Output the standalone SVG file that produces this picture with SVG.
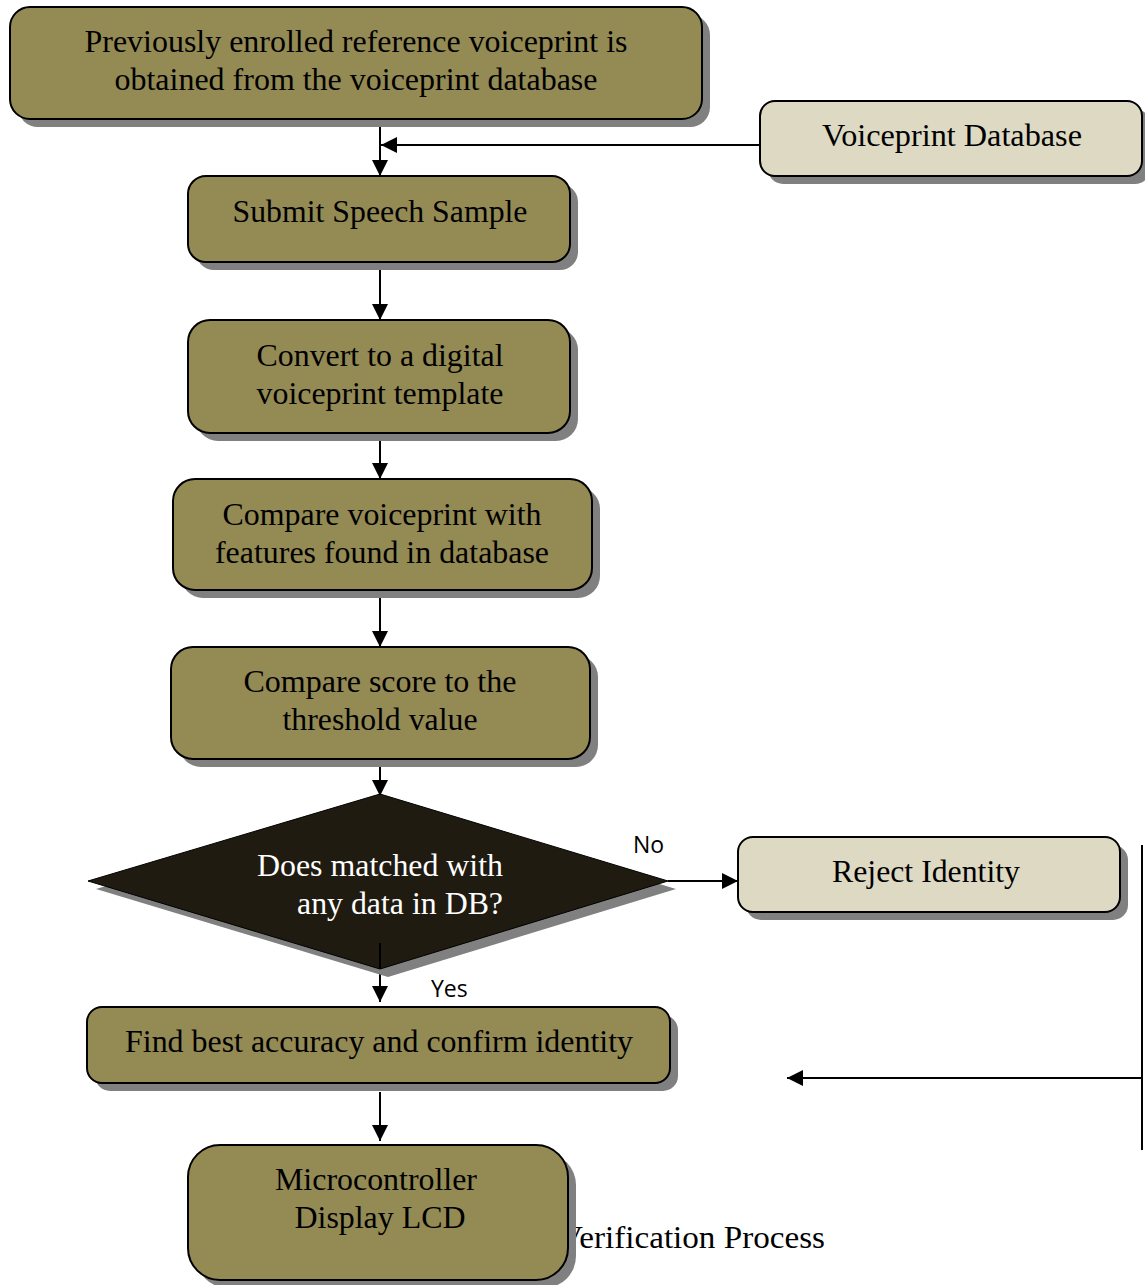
<svg xmlns="http://www.w3.org/2000/svg" width="1145" height="1285" viewBox="0 0 1145 1285">
<style>
.box{fill:#948a54;stroke:#000;stroke-width:2}
.lbox{fill:#ddd9c3;stroke:#000;stroke-width:2}
.sh{fill:#808080;stroke:none}
.t{font-family:"Liberation Serif","Times New Roman",serif;font-size:31px;fill:#000;text-anchor:middle}
.tw{font-family:"Liberation Serif","Times New Roman",serif;font-size:31px;fill:#fff;text-anchor:middle}
.s{font-family:"Open Sans","Liberation Sans",sans-serif;font-size:23px;fill:#000}
.c{fill:none;stroke:#000;stroke-width:2}
</style>
<defs>
<marker id="ah" markerUnits="userSpaceOnUse" markerWidth="16" markerHeight="16" refX="16" refY="8" orient="auto">
<path d="M0,0 L16,8 L0,16 z" fill="#000"/>
</marker>
</defs>
<rect width="1145" height="1285" fill="#fff"/>
<text class="t" x="825" y="1248" style="text-anchor:end" textLength="266" lengthAdjust="spacingAndGlyphs">Verification Process</text>
<g id="connectors">
<line class="c" x1="380" y1="119" x2="380" y2="176" marker-end="url(#ah)"/>
<line class="c" x1="760" y1="145" x2="381" y2="145" marker-end="url(#ah)"/>
<line class="c" x1="380" y1="262" x2="380" y2="320" marker-end="url(#ah)"/>
<line class="c" x1="380" y1="433" x2="380" y2="479" marker-end="url(#ah)"/>
<line class="c" x1="380" y1="590" x2="380" y2="647" marker-end="url(#ah)"/>
<line class="c" x1="380" y1="759" x2="380" y2="796" marker-end="url(#ah)"/>
<line class="c" x1="668" y1="881" x2="738" y2="881" marker-end="url(#ah)"/>
<line class="c" x1="380" y1="969" x2="380" y2="1002" marker-end="url(#ah)"/>
<line class="c" x1="1142" y1="845" x2="1142" y2="1150"/>
<line class="c" x1="1142" y1="1078" x2="787" y2="1078" marker-end="url(#ah)"/>
<line class="c" x1="380" y1="1092" x2="380" y2="1141" marker-end="url(#ah)"/>
</g>
<g id="n1">
<rect class="sh" x="18" y="15" width="692" height="112" rx="20"/>
<rect class="box" x="10" y="7" width="692" height="112" rx="20"/>
<text class="t" x="356" y="52" textLength="543" lengthAdjust="spacingAndGlyphs">Previously enrolled reference voiceprint is</text>
<text class="t" x="356" y="90" textLength="483" lengthAdjust="spacingAndGlyphs">obtained from the voiceprint database</text>
</g>
<g id="db">
<rect class="sh" x="768" y="109" width="382" height="75" rx="15"/>
<rect class="lbox" x="760" y="101" width="382" height="75" rx="15"/>
<text class="t" x="952" y="146" textLength="260" lengthAdjust="spacingAndGlyphs">Voiceprint Database</text>
</g>
<g id="n2">
<rect class="sh" x="196" y="184" width="382" height="86" rx="18"/>
<rect class="box" x="188" y="176" width="382" height="86" rx="18"/>
<text class="t" x="380" y="222" textLength="295" lengthAdjust="spacingAndGlyphs">Submit Speech Sample</text>
</g>
<g id="n3">
<rect class="sh" x="196" y="328" width="382" height="113" rx="22"/>
<rect class="box" x="188" y="320" width="382" height="113" rx="22"/>
<text class="t" x="380" y="366" textLength="247" lengthAdjust="spacingAndGlyphs">Convert to a digital</text>
<text class="t" x="380" y="404" textLength="247" lengthAdjust="spacingAndGlyphs">voiceprint template</text>
</g>
<g id="n4">
<rect class="sh" x="181" y="487" width="419" height="111" rx="22"/>
<rect class="box" x="173" y="479" width="419" height="111" rx="22"/>
<text class="t" x="382" y="525" textLength="319" lengthAdjust="spacingAndGlyphs">Compare voiceprint with</text>
<text class="t" x="382" y="563" textLength="334" lengthAdjust="spacingAndGlyphs">features found in database</text>
</g>
<g id="n5">
<rect class="sh" x="179" y="655" width="419" height="112" rx="22"/>
<rect class="box" x="171" y="647" width="419" height="112" rx="22"/>
<text class="t" x="380" y="692" textLength="273" lengthAdjust="spacingAndGlyphs">Compare score to the</text>
<text class="t" x="380" y="730" textLength="195" lengthAdjust="spacingAndGlyphs">threshold value</text>
</g>
<g id="decision">
<polygon class="sh" points="388,802 676,889 388,977 96,889"/>
<polygon points="380,794 668,881 380,969 88,881" fill="#1f1b10" stroke="#000" stroke-width="1"/>
<line x1="380" y1="943" x2="380" y2="969" stroke="#000" stroke-width="2"/>
<text class="tw" x="380" y="876" textLength="246" lengthAdjust="spacingAndGlyphs">Does matched with</text>
<text class="tw" x="400" y="914" textLength="206" lengthAdjust="spacingAndGlyphs">any data in DB?</text>
</g>
<text class="s" x="633" y="853">No</text>
<text class="s" x="431" y="997">Yes</text>
<g id="reject">
<rect class="sh" x="746" y="845" width="382" height="75" rx="15"/>
<rect class="lbox" x="738" y="837" width="382" height="75" rx="15"/>
<text class="t" x="926" y="882" textLength="188" lengthAdjust="spacingAndGlyphs">Reject Identity</text>
</g>
<g id="n6">
<rect class="sh" x="95" y="1015" width="583" height="76" rx="15"/>
<rect class="box" x="87" y="1007" width="583" height="76" rx="15"/>
<text class="t" x="379" y="1052" textLength="508" lengthAdjust="spacingAndGlyphs">Find best accuracy and confirm identity</text>
</g>
<g id="n7">
<rect class="sh" x="196" y="1153" width="380" height="135" rx="32"/>
<rect class="box" x="188" y="1145" width="380" height="135" rx="32"/>
<text class="t" x="376" y="1190" textLength="202" lengthAdjust="spacingAndGlyphs">Microcontroller</text>
<text class="t" x="380" y="1228" textLength="171" lengthAdjust="spacingAndGlyphs">Display LCD</text>
</g>
</svg>
